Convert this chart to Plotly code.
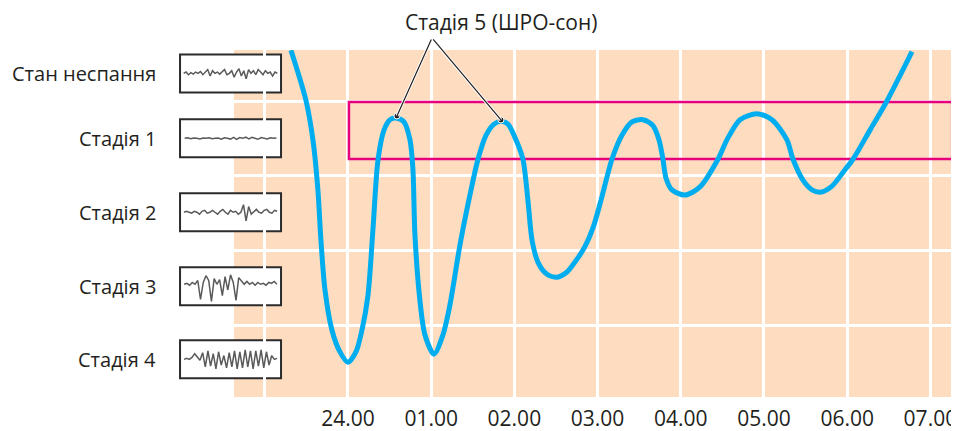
import plotly.graph_objects as go

# sleep profile: hours after midnight (24.00 -> 0) and depth (0 = awake ... 4 = stage 4)
hours = [-0.685, -0.505, -0.421, -0.361, -0.325, -0.276, -0.192, -0.096, 0.0, 0.096,
         0.168, 0.240, 0.300, 0.361, 0.433, 0.505, 0.589, 0.673, 0.745, 0.781,
         0.805, 0.865, 0.925, 1.034, 1.142, 1.226, 1.346, 1.466, 1.563,
         1.659, 1.755, 1.839, 1.923, 2.019, 2.103, 2.163, 2.212, 2.284, 2.392,
         2.512, 2.632, 2.764, 2.848, 2.945, 3.041, 3.173, 3.293, 3.413, 3.546, 3.666,
         3.738, 3.786, 3.822, 3.894, 4.050, 4.231, 4.447, 4.555, 4.712, 4.916,
         5.096, 5.276, 5.349, 5.469, 5.577, 5.685, 5.817, 5.974, 6.070, 6.274,
         6.478, 6.779]
depth = [-0.18, 0.49, 1.02, 1.69, 2.36, 3.03, 3.57, 3.86, 4.00, 3.86,
         3.57, 3.11, 2.23, 1.29, 0.89, 0.75, 0.73, 0.78, 1.02, 1.42,
         2.29, 3.17, 3.63, 3.89, 3.63, 3.23, 2.43, 1.76, 1.28,
         0.96, 0.81, 0.77, 0.81, 1.02, 1.28, 1.83, 2.36, 2.66, 2.82,
         2.86, 2.79, 2.60, 2.45, 2.20, 1.83, 1.28, 0.96, 0.78, 0.75, 0.83,
         1.02, 1.28, 1.53, 1.69, 1.76, 1.65, 1.28, 1.02, 0.75, 0.67,
         0.75, 1.02, 1.28, 1.56, 1.69, 1.72, 1.64, 1.42, 1.28, 0.89,
         0.50, -0.16]

# REM peaks pointed at by the callout
rem_hours = [0.589, 1.839]
rem_depth = [0.70, 0.754]
rem_label = "Стадія 5 (ШРО-сон)"

stages = ["Стан неспання", "Стадія 1", "Стадія 2", "Стадія 3", "Стадія 4"]
stage_y = [0.13, 1.0, 1.99, 2.98, 3.96]

# little EEG snippets next to each stage
eeg_wake = [0, 0.07, -0.07, 0.04, -0.04, 0.07, 0, 0.1, -0.07, 0.04, 0.2, -0.14, 0.14, 0, 0.07,
            -0.04, 0.1, 0.2, -0.07, 0, 0.14, -0.2, 0.07, 0.24, -0.14, 0.14, -0.28, 0.2, 0, 0.14,
            -0.07, 0.2, 0.07, -0.07, 0.14, 0, 0.07, -0.14, 0.07, 0]
eeg_s1 = [0, 0.03, -0.02, 0.02, 0, -0.03, 0.02, 0, 0.03, -0.02, 0, 0.02, -0.05, 0.03, 0,
          -0.04, 0.05, -0.06, 0.04, 0, 0.06, -0.03, 0.05, 0, -0.05, 0.04, 0.02, -0.03, 0.03, 0, 0.02]
eeg_s2 = [0, 0.05, 0, -0.05, 0.05, 0, -0.1, 0.05, 0.1, -0.05, 0, 0.1, 0, -0.1, 0.05, 0.15,
          0, -0.1, 0.1, 0, 0.05, -0.1, 0, 0.4, -0.45, 0.3, -0.1, 0.05, 0.15, 0, -0.05, 0.1,
          0.15, 0, -0.05, 0.1, 0.05]
eeg_s3 = [0.1, 0.15, 0.05, 0.2, 0.1, 0.3, -0.7, 0.2, 0.55, 0.3, -0.8, 0.4, 0.1, 0.35, -0.5,
          0.5, -0.2, 0.6, 0.2, -0.75, 0.45, 0.3, 0.1, 0.25, 0.1, 0.2, 0.05, 0.2, 0.1, 0.15,
          0.05, 0.2, 0.15, 0.25, 0.1]
eeg_s4 = [0, 0.05, 0, 0.1, 0.3, 0.1, -0.05, 0.35, -0.4, 0.45, -0.35, 0.3, -0.5, 0.4, -0.3,
          0.2, -0.45, 0.35, -0.4, 0.45, -0.5, 0.4, -0.45, 0.5, -0.4, 0.45, -0.5, 0.45, -0.35,
          0.5, -0.45, 0.4, -0.3, 0.2, 0, 0.05]
eeg = [eeg_wake, eeg_s1, eeg_s2, eeg_s3, eeg_s4]

tick_hours = [-1, 0, 1, 2, 3, 4, 5, 6, 7]
tick_text = ["", "24.00", "01.00", "02.00", "03.00", "04.00", "05.00", "06.00", "07.00"]
depth_grid = [0.5, 1.5, 2.5, 3.5]

FONT = "Open Sans"
INK = "#231F20"
W, H = 951, 423          # page body keeps an 8px margin
X_RANGE = [-1.37, 7.296]
Y_RANGE = [4.464, -0.183]
X_DOM = [0.2376, 0.9958]
Y_DOM = [0.0804, 0.9007]
BOX_X = [0.1809, 0.2871]
BOX_H = 38 / H


def paper_y(v):
    return Y_DOM[0] + (Y_RANGE[0] - v) / (Y_RANGE[0] - Y_RANGE[1]) * (Y_DOM[1] - Y_DOM[0])


fig = go.Figure()
fig.add_trace(go.Scatter(
    x=hours, y=depth, mode="lines", line_shape="spline",
    line=dict(color="#00AEEF", width=5, smoothing=0.8), hoverinfo="skip",
))
fig.add_trace(go.Scatter(
    x=rem_hours, y=rem_depth, mode="markers", cliponaxis=False,
    marker=dict(color=INK, size=6, line=dict(color="white", width=1)),
))

layout = dict(
    width=W, height=H, showlegend=False,
    paper_bgcolor="white", plot_bgcolor="rgba(0,0,0,0)",
    margin=dict(l=0, r=0, t=0, b=0),
    font=dict(family=FONT, color=INK, size=20),
    xaxis=dict(domain=X_DOM, range=X_RANGE, tickvals=tick_hours, ticktext=tick_text,
               showgrid=True, gridcolor="white", gridwidth=3, zeroline=False,
               showline=False, ticks="", automargin=False, ticklabelstandoff=7,
               tickfont=dict(size=21, color=INK)),
    yaxis=dict(domain=Y_DOM, range=Y_RANGE, tickvals=depth_grid, showticklabels=False,
               showgrid=True, gridcolor="white", gridwidth=3, zeroline=False,
               showline=False, ticks="", automargin=False),
)

shapes = [
    dict(type="rect", xref="x domain", yref="y domain", x0=0, x1=1, y0=0, y1=1,
         fillcolor="#FDDCBF", line_width=0, layer="below"),
    dict(type="rect", xref="x", yref="y", x0=0.012, x1=7.262, y0=0.513, y1=1.276,
         line=dict(color="#E6007E", width=2.5), fillcolor="rgba(0,0,0,0)", layer="between"),
]
annotations = []

for i, (name, lvl, sig) in enumerate(zip(stages, stage_y, eeg)):
    k = i + 2
    c = paper_y(lvl)
    layout[f"xaxis{k}"] = dict(domain=BOX_X, anchor=f"y{k}", range=[-1.5, len(sig) + 0.5],
                               visible=False, automargin=False)
    layout[f"yaxis{k}"] = dict(domain=[c - BOX_H / 2, c + BOX_H / 2], anchor=f"x{k}",
                               range=[-1, 1], visible=False, automargin=False)
    fig.add_trace(go.Scatter(
        x=list(range(len(sig))), y=sig, xaxis=f"x{k}", yaxis=f"y{k}", mode="lines",
        line=dict(color="#5a5a5a", width=1.5), hoverinfo="skip",
    ))
    shapes.append(dict(type="rect", xref=f"x{k} domain", yref=f"y{k} domain",
                       x0=0, x1=1, y0=0, y1=1, fillcolor="white",
                       line=dict(color="#2b2b2b", width=2), layer="below"))
    annotations.append(dict(text=name, xref="paper", yref="y", x=150 / W, y=lvl,
                            xanchor="right", yanchor="middle", showarrow=False,
                            font=dict(size=20, color=INK)))

# callout lines to the REM peaks
tail = (1.01, -0.344)
for h, d in zip(rem_hours, rem_depth):
    for col, w in (("white", 3), (INK, 1.2)):
        annotations.append(dict(text="", x=h, y=d, xref="x", yref="y",
                                ax=tail[0], ay=tail[1], axref="x", ayref="y",
                                showarrow=True, arrowhead=0, arrowwidth=w,
                                arrowcolor=col, standoff=0, startstandoff=0))
annotations.append(dict(text=rem_label, x=493 / W, y=1 - 14 / H, xref="paper", yref="paper",
                        xanchor="center", yanchor="middle", showarrow=False,
                        font=dict(size=21, color=INK)))

layout["shapes"] = shapes
layout["annotations"] = annotations
fig.update_layout(**layout)

fig.write_html("out.html")
